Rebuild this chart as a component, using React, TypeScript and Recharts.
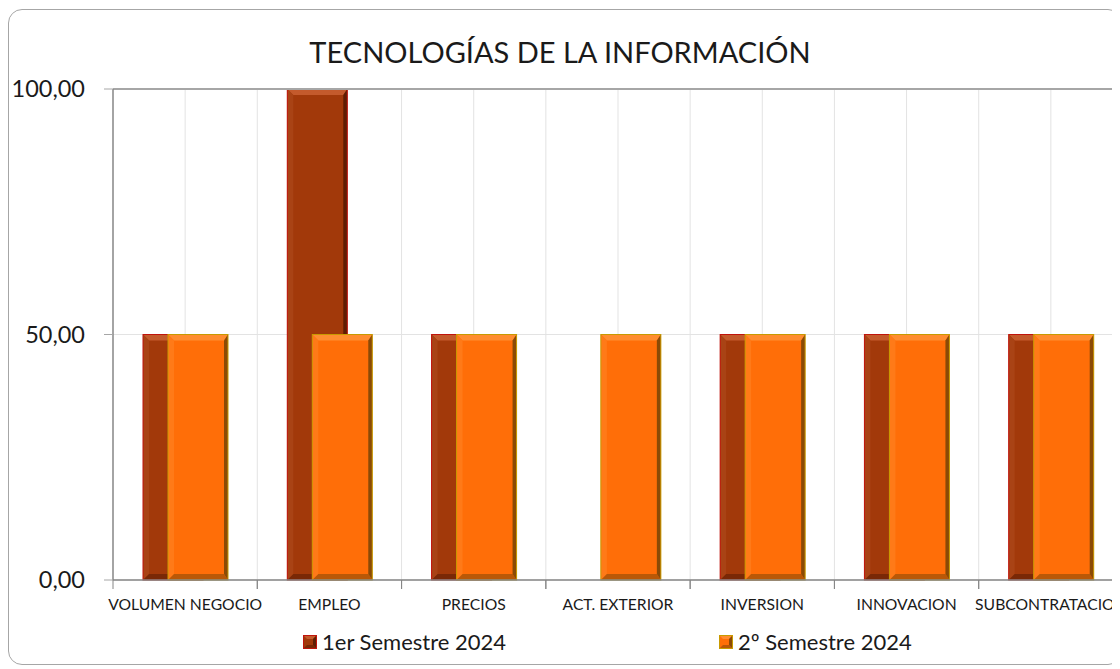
import React from 'react';
import { BarChart, Bar, XAxis, YAxis, CartesianGrid, ReferenceLine } from 'recharts';

const categories = ['VOLUMEN NEGOCIO', 'EMPLEO', 'PRECIOS', 'ACT. EXTERIOR', 'INVERSION', 'INNOVACION', 'SUBCONTRATACION'];
const semestre1 = [50, 100, 50, 0, 50, 50, 50];
const semestre2 = [50, 50, 50, 50, 50, 50, 50];
const yTicks = [0, 50, 100];
const seriesNames = ['1er Semestre 2024', '2º Semestre 2024'];

const data = categories.map((c, i) => ({ name: c, s1: semestre1[i], s2: semestre2[i] }));

const FONT = 'Lato, "Noto Sans", sans-serif';

const DARK = { fill: '#a2390a', light: '#c45a2c', side: '#a94315', dark: '#5e1e04', stroke: '#c0140c' };
const ORANGE = { fill: '#ff6e08', light: '#ff8d30', side: '#ff7a18', dark: '#8a4a06', stroke: '#c89a00' };

function makeBevel(c: typeof DARK) {
  return (props: any) => {
    const { x, y, width, height } = props;
    if (!height || height <= 0 || !width) return <g />;
    const w = width, h = height;
    const b = Math.min(6, w / 4, h / 4);
    const rb = Math.min(4, w / 4, h / 4);
    return (
      <g>
        <rect x={x} y={y} width={w} height={h} fill={c.fill} />
        <polygon points={`${x},${y} ${x + w},${y} ${x + w - rb},${y + b} ${x + b},${y + b}`} fill={c.light} />
        <polygon points={`${x},${y} ${x + b},${y + b} ${x + b},${y + h - b} ${x},${y + h}`} fill={c.side} />
        <polygon points={`${x + w},${y} ${x + w},${y + h} ${x + w - rb},${y + h - b} ${x + w - rb},${y + b}`} fill={c.dark} />
        <polygon points={`${x},${y + h} ${x + b},${y + h - b} ${x + w - rb},${y + h - b} ${x + w},${y + h}`} fill={c.dark} opacity={0.6} />
        <rect x={x} y={y} width={w} height={h} fill="none" stroke={c.stroke} strokeWidth={1} />
      </g>
    );
  };
}

const DarkShape = makeBevel(DARK);
const OrangeShape = makeBevel(ORANGE);

const XTick = (props: any) => {
  const { x, y, payload } = props;
  const half = payload && typeof payload.offset === 'number' && payload.offset > 0 ? payload.offset : 72;
  return (
    <g>
      <line x1={x - half} x2={x - half} y1={y} y2={y + 9} stroke="#868686" strokeWidth={1} />
      <line x1={x + half} x2={x + half} y1={y} y2={y + 9} stroke="#868686" strokeWidth={1} />
      <text x={x} y={y + 30} textAnchor="middle" fontFamily={FONT} fontSize={15.7} fill="#1a1a1a">
        {payload.value}
      </text>
    </g>
  );
};

const fmt = (v: number) => v.toFixed(2).replace('.', ',');

const LegendSwatch = ({ c }: { c: typeof DARK }) => (
  <svg width={14} height={14} style={{ display: 'block' }}>
    <rect x={0.5} y={0.5} width={13} height={13} fill={c.fill} stroke={c.stroke} />
    <polygon points="1,1 13,1 10,4 4,4" fill={c.light} />
    <polygon points="13,1 13,13 10,10 10,4" fill={c.dark} />
    <polygon points="1,13 4,10 10,10 13,13" fill={c.dark} opacity={0.6} />
  </svg>
);

export default function App() {
  return (
    <div style={{ position: 'relative', width: 1112, height: 661, overflow: 'hidden', background: '#fff' }}>
      <div
        style={{
          position: 'absolute',
          left: 0,
          top: 1,
          width: 1114,
          height: 656,
          border: '1px solid #a6a6a6',
          borderRadius: 14,
          boxSizing: 'border-box',
        }}
      />
      <div style={{ position: 'absolute', left: -8, top: -8 }}>
        <BarChart
          width={1160}
          height={669}
          data={data}
          margin={{ top: 89, right: 37, left: 0, bottom: 49 }}
          barGap={-35}
        >
          <CartesianGrid
            stroke="#e3e3e3"
            vertical={true}
            horizontal={true}
            verticalCoordinatesGenerator={(p: any) => {
              const o = p.offset;
              const arr: number[] = [];
              for (let i = 1; i < 14; i++) arr.push(o.left + (o.width * i) / 14);
              return arr;
            }}
          />
          <XAxis
            dataKey="name"
            height={40}
            tickLine={false}
            tickSize={0}
            tickMargin={0}
            axisLine={{ stroke: '#868686', strokeWidth: 1.5 }}
            tick={<XTick />}
            interval={0}
          />
          <YAxis
            width={113}
            domain={[0, 100]}
            ticks={yTicks}
            tickFormatter={fmt}
            axisLine={{ stroke: '#868686', strokeWidth: 1.5 }}
            tickLine={{ stroke: '#a6a6a6' }}
            tickSize={9}
            tickMargin={19}
            tick={{ fontFamily: FONT, fontSize: 23.5, fill: '#1a1a1a' }}
          />
          <ReferenceLine y={100} stroke="#a6a6a6" strokeWidth={2} />
          <Bar dataKey="s1" name={seriesNames[0]} barSize={60} shape={DarkShape} isAnimationActive={false} />
          <Bar dataKey="s2" name={seriesNames[1]} barSize={60} shape={OrangeShape} isAnimationActive={false} />
        </BarChart>
      </div>
      <div
        style={{
          position: 'absolute',
          left: 552,
          top: 27,
          transform: 'translateX(-50%)',
          fontFamily: FONT,
          fontSize: 29,
          color: '#1a1a1a',
          whiteSpace: 'nowrap',
          lineHeight: '34px',
        }}
      >
        TECNOLOGÍAS DE LA INFORMACIÓN
      </div>
      <div style={{ position: 'absolute', left: 295, top: 620, display: 'flex', alignItems: 'center', fontFamily: FONT, fontSize: 22, color: '#1a1a1a', whiteSpace: 'nowrap', lineHeight: '28px' }}>
        <LegendSwatch c={DARK} />
        <span style={{ marginLeft: 5 }}>{seriesNames[0]}</span>
      </div>
      <div style={{ position: 'absolute', left: 711, top: 620, display: 'flex', alignItems: 'center', fontFamily: FONT, fontSize: 22, color: '#1a1a1a', whiteSpace: 'nowrap', lineHeight: '28px' }}>
        <LegendSwatch c={ORANGE} />
        <span style={{ marginLeft: 5 }}>{seriesNames[1]}</span>
      </div>
    </div>
  );
}
